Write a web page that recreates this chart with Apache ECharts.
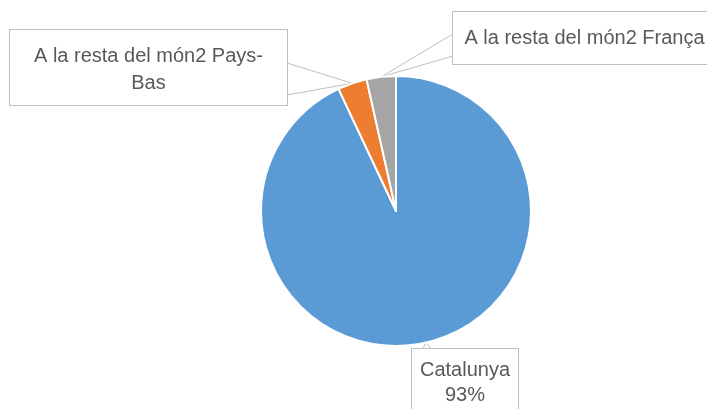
<!DOCTYPE html>
<html>
<head>
<meta charset="utf-8">
<script src="https://cdn.jsdelivr.net/npm/echarts@6/dist/echarts.min.js"></script>
<style>
html, body { margin: 0; padding: 0; background: #fff; }
#main { width: 707px; height: 409px; }
</style>
</head>
<body>
<div id="main"></div>
<script>
var names = ['Catalunya', 'A la resta del món2 Pays-Bas', 'A la resta del món2 França'];
var values = [93, 3.5, 3.5];
var colors = ['#5b9bd5', '#ed7d31', '#a5a5a5'];
var labelTexts = ['{b}\n{d}%', 'A la resta del món2 Pays-\nBas', '{b}'];

// callout boxes: top-left corner, width, padding, line height, wedge anchors (relative to box)
var boxes = [
    { x: 412, y: 349, w: 106, pad: [9, 0, 14, 0], lh: 25, anchors: [[11, 0], [20, 0]] },
    { x: 10, y: 30, w: 277, pad: [13, 0, 8, 0], lh: 27, anchors: [[277, 33], [277, 65]] },
    { x: 453, y: 12, w: 263, pad: [13, 0, 12, 0], lh: 27, anchors: [[0, 22], [0, 44]] }
];

var myChart = echarts.init(document.getElementById('main'));

var data = [];
for (var i = 0; i < names.length; i++) {
    data.push({
        name: names[i],
        value: values[i],
        itemStyle: { color: colors[i] },
        label: {
            formatter: labelTexts[i],
            width: boxes[i].w,
            lineHeight: boxes[i].lh,
            padding: boxes[i].pad
        }
    });
}

var option = {
    animation: false,
    series: [
        {
            type: 'pie',
            center: [396, 211],
            radius: 135,
            startAngle: 90,
            clockwise: true,
            data: data,
            itemStyle: {
                borderColor: '#fff',
                borderWidth: 2
            },
            label: {
                show: true,
                position: 'outside',
                fontFamily: 'Liberation Sans',
                fontSize: 20,
                color: '#595959',
                overflow: 'none',
                backgroundColor: '#fff',
                borderColor: '#bfbfbf',
                borderWidth: 1
            },
            labelLine: {
                show: true,
                smooth: false,
                lineStyle: { color: '#bfbfbf', width: 1 }
            },
            labelLayout: function (params) {
                var b = boxes[params.dataIndex];
                var tip = params.labelLinePoints ? params.labelLinePoints[0] : [b.x, b.y];
                return {
                    x: b.x + b.w / 2,
                    y: b.y,
                    align: 'center',
                    verticalAlign: 'top',
                    labelLinePoints: [
                        [b.x + b.anchors[0][0], b.y + b.anchors[0][1]],
                        tip,
                        [b.x + b.anchors[1][0], b.y + b.anchors[1][1]]
                    ]
                };
            },
            emphasis: { disabled: true }
        }
    ]
};
myChart.setOption(option);
</script>
</body>
</html>
